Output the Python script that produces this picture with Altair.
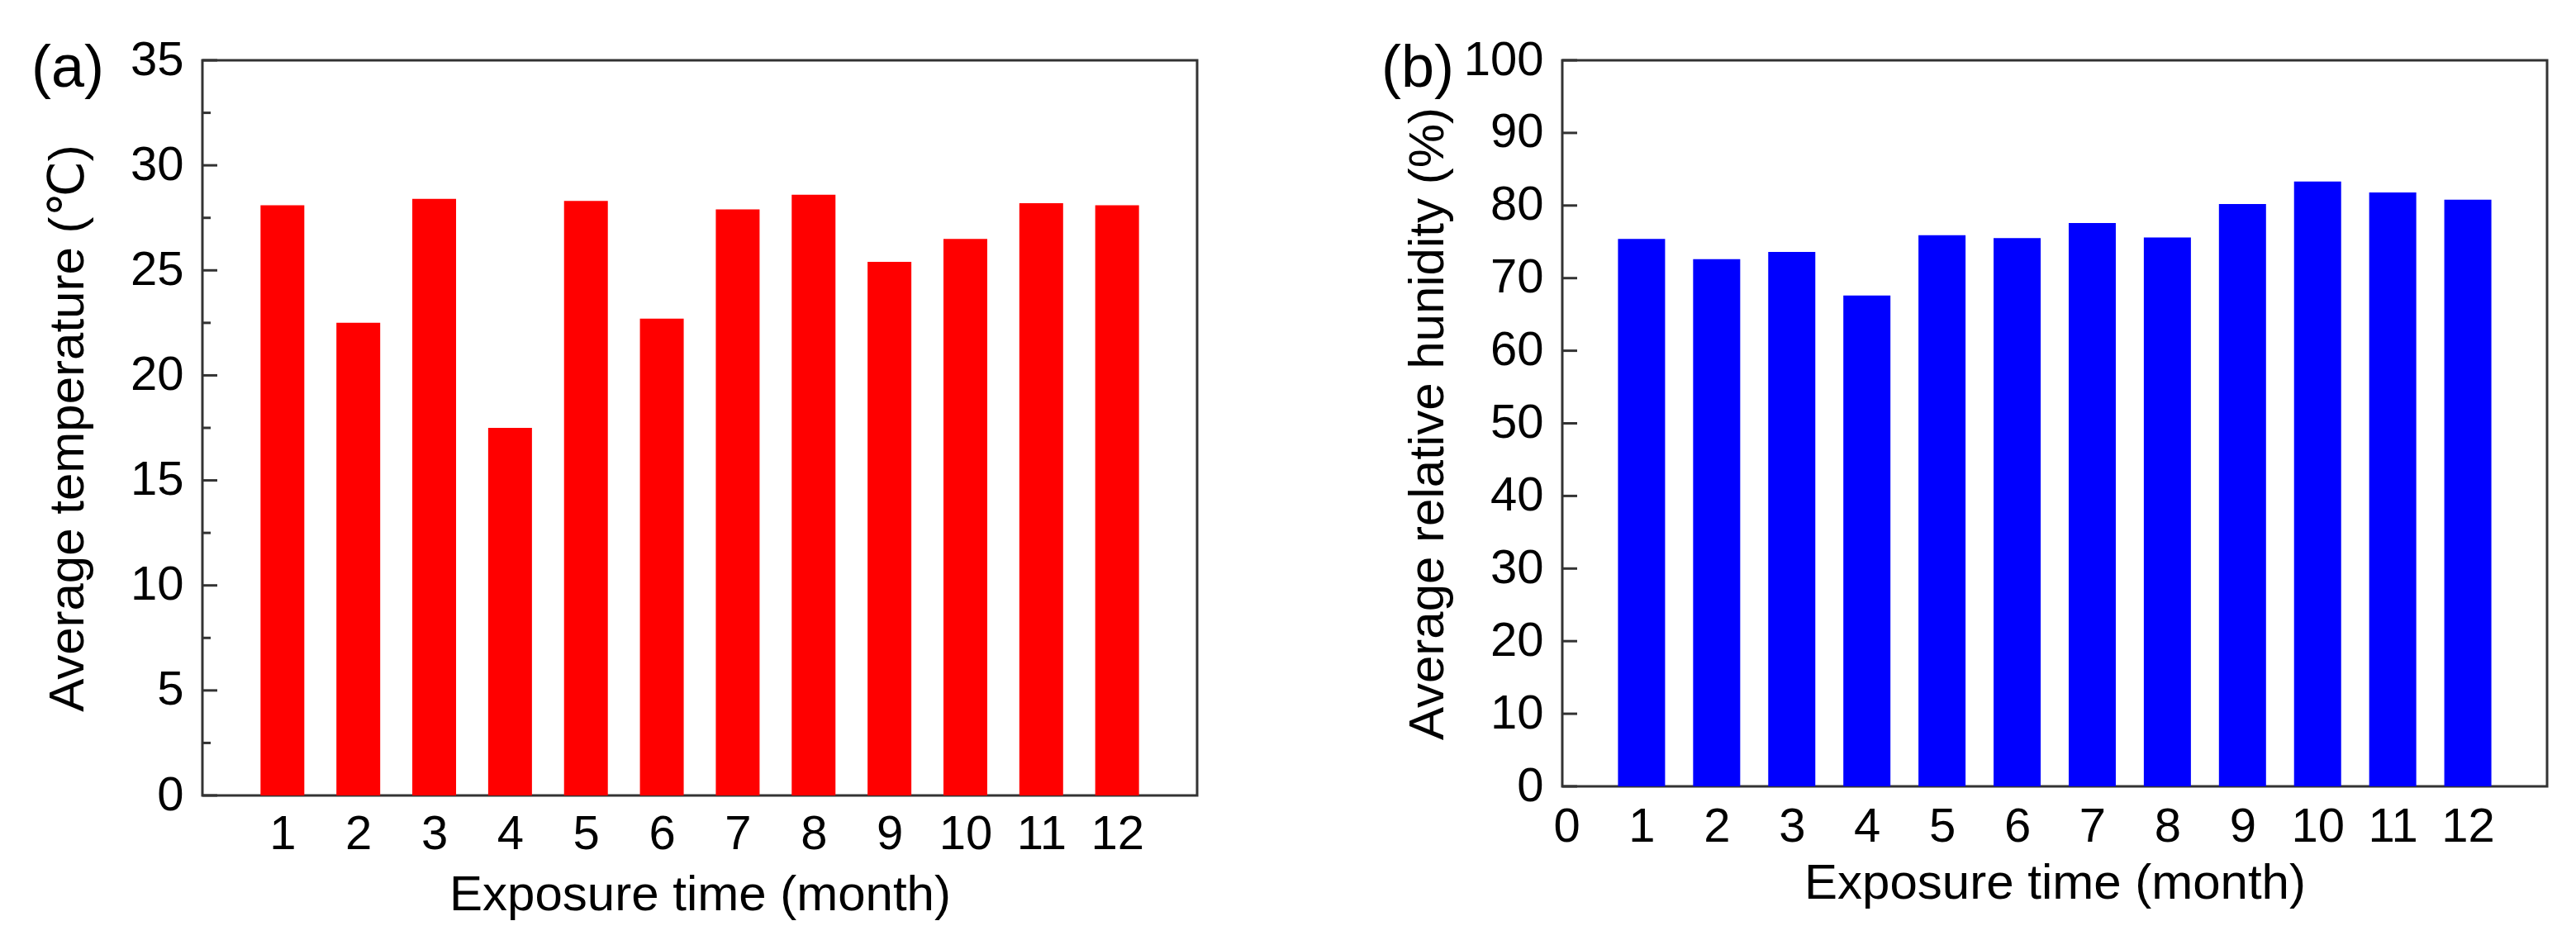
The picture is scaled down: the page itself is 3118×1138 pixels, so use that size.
import altair as alt
import pandas as pd

months = list(range(1, 13))
temperature = [28.1, 22.5, 28.4, 17.5, 28.3, 22.7, 27.9, 28.6, 25.4, 26.5, 28.2, 28.1]
humidity = [75.4, 72.6, 73.6, 67.6, 75.9, 75.5, 77.6, 75.6, 80.2, 83.3, 81.8, 80.8]

temp_ticks = [0, 5, 10, 15, 20, 25, 30, 35]
temp_minor = [2.5, 7.5, 12.5, 17.5, 22.5, 27.5, 32.5]
hum_ticks = [0, 10, 20, 30, 40, 50, 60, 70, 80, 90, 100]
x_labels_a = months
x_labels_b = [0] + months

FONT = "Arial, Liberation Sans, DejaVu Sans"


def panel(values, color, y_max, y_ticks, minor, y_title, tag, x_labels,
          width, height, bar_size, tag_dx, label_pad_x, title_y):
    df = pd.DataFrame({"month": months, "value": values})
    y_scale = alt.Scale(domain=[0, y_max], nice=False)

    bars = alt.Chart(df).mark_bar(color=color, size=bar_size).encode(
        x=alt.X("month:Q",
                scale=alt.Scale(domain=[0, 13], nice=False, zero=False),
                axis=alt.Axis(values=x_labels, title="Exposure time (month)",
                              grid=False, domain=False, ticks=False, tickSize=0,
                              labelFlush=False, labelPadding=label_pad_x,
                              format="d", titleY=title_y,
                              titleBaseline="alphabetic")),
        y=alt.Y("value:Q", scale=y_scale,
                axis=alt.Axis(values=y_ticks, title=y_title, grid=False,
                              domain=False, ticks=False, tickSize=0,
                              labelFlush=False, labelPadding=23,
                              titleX=-145, titleBaseline="alphabetic")),
    )

    # inward ticks on the left axis
    major = alt.Chart(pd.DataFrame({"v": y_ticks})).mark_rule(
        color="#333", strokeWidth=3
    ).encode(
        y=alt.Y("v:Q", scale=y_scale, axis=None),
        x=alt.value(0), x2=alt.value(18),
    )
    layers = [bars, major]
    if minor:
        minor_rules = alt.Chart(pd.DataFrame({"v": minor})).mark_rule(
            color="#333", strokeWidth=3
        ).encode(
            y=alt.Y("v:Q", scale=y_scale, axis=None),
            x=alt.value(0), x2=alt.value(10),
        )
        layers.append(minor_rules)

    # panel tag, e.g. "(a)", sitting left of the top tick label
    label = alt.Chart(pd.DataFrame({"tag": [tag]})).mark_text(
        font=FONT, fontSize=72, align="left", baseline="alphabetic",
        color="black"
    ).encode(
        text="tag:N", x=alt.value(tag_dx), y=alt.value(32)
    )
    layers.append(label)

    return alt.layer(*layers).resolve_axis(y="independent").properties(
        width=width, height=height
    )


left = panel(temperature, "#ff0000", 35, temp_ticks, temp_minor,
             "Average temperature (℃)", "(a)", x_labels_a,
             1204, 890, 53, -207, 18, 138)
right = panel(humidity, "#0000ff", 100, hum_ticks, None,
              "Average relative hunidity (%)", "(b)", x_labels_b,
              1192, 879, 57, -219, 20, 135)

chart = alt.hconcat(left, right, spacing=219).properties(
    padding={"left": 28, "top": 34, "right": 0, "bottom": 0}
).configure_view(
    stroke="#333", strokeWidth=3
).configure_axis(
    labelFont=FONT, titleFont=FONT, labelFontSize=58, titleFontSize=60,
    labelColor="black", titleColor="black", titleFontWeight="normal"
)

chart.save("out.html", embed_options={"renderer": "svg", "actions": False})
